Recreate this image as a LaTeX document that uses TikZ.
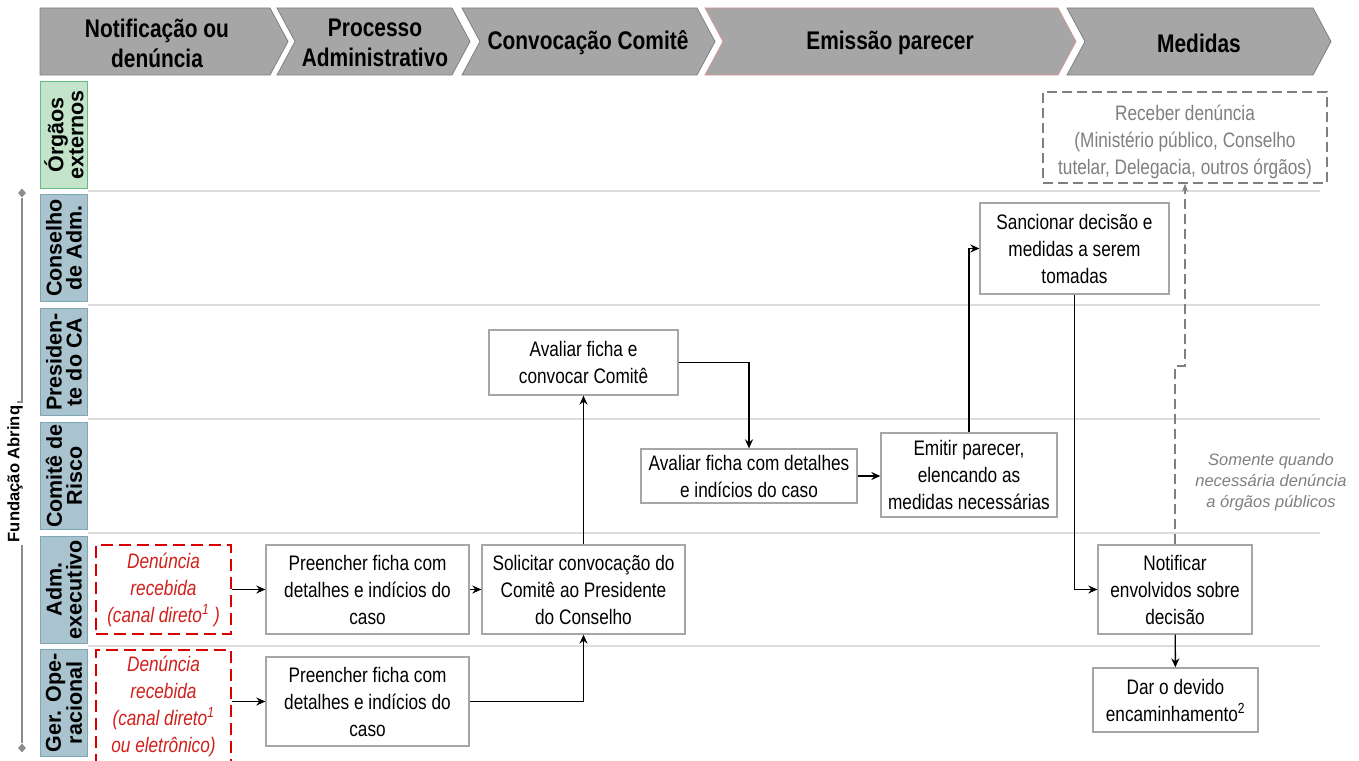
\documentclass[tikz,border=0pt]{standalone}
\usepackage{fontspec}
\setmainfont{Liberation Sans}[FakeStretch=0.82]
\newfontfamily\widefont{Liberation Sans}
\usetikzlibrary{arrows.meta,shapes.geometric}
\definecolor{hdrfill}{HTML}{A6A6A6}
\definecolor{hdrline}{HTML}{808080}
\definecolor{hdrred}{HTML}{D99694}
\definecolor{lanefill}{HTML}{A9C4CE}
\definecolor{laneline}{HTML}{7EA6B4}
\definecolor{grnfill}{HTML}{C3E4CA}
\definecolor{grnline}{HTML}{66BB7F}
\definecolor{sepline}{HTML}{DDDDDD}
\definecolor{boxline}{HTML}{A6A6A6}
\definecolor{redtxt}{HTML}{D0201C}
\definecolor{graytxt}{HTML}{7F7F7F}
\definecolor{brk}{HTML}{8C8C8C}
\tikzset{
  chev/.style={fill=hdrfill, draw=hdrline, line width=0.8pt},
  hdr/.style={font=\bfseries\fontsize{25.5}{30}\selectfont, align=center, inner sep=0},
  lane/.style={draw=laneline, fill=lanefill, line width=1pt, rotate=90, minimum width=107pt, minimum height=47pt, inner sep=0, align=center, font=\widefont\bfseries\fontsize{21.5}{20}\selectfont},
  grnlane/.style={lane, draw=grnline, fill=grnfill},
  sep/.style={draw=sepline, line width=1.8pt},
  box/.style={draw=boxline, line width=1.3pt, fill=white, align=center, inner sep=0, font=\fontsize{21}{27}\selectfont},
  redbox/.style={box, draw=red!85!black, dash pattern=on 12pt off 6pt, text=redtxt, font=\itshape\fontsize{21}{27}\selectfont},
  recvbox/.style={box, draw=graytxt, dash pattern=on 10pt off 5pt, text=graytxt},
  arr/.style={line width=1.4pt, -{Stealth[length=9pt,width=8pt]}},
  garr/.style={draw=graytxt, line width=1.2pt, dash pattern=on 10pt off 5pt, -{Stealth[length=8pt,width=6pt,open]}},
}
\begin{document}
\begin{tikzpicture}[x=1pt,y=-1pt]
\useasboundingbox (0,0) rectangle (1359,760);
% header chevrons
\draw[chev] (40,8) -- (270,8) -- (288,41.5) -- (270,75) -- (40,75) -- cycle;
\draw[chev] (277,8) -- (452,8) -- (470,41.5) -- (452,75) -- (277,75) -- (295,41.5) -- cycle;
\draw[chev] (462,8) -- (697,8) -- (715,41.5) -- (697,75) -- (462,75) -- (480,41.5) -- cycle;
\draw[chev, draw=hdrred] (705,8) -- (1058,8) -- (1076,41.5) -- (1058,75) -- (705,75) -- (723,41.5) -- cycle;
\draw[chev] (1067,8) -- (1313,8) -- (1331,41.5) -- (1313,75) -- (1067,75) -- (1085,41.5) -- cycle;
\node[hdr] (h1) at (157,43) {Notificação ou\\denúncia};
\node[hdr] (h2) at (375,43) {Processo\\Administrativo};
\node[hdr] (h3) at (588,43) {Convocação Comitê};
\node[hdr] (h4) at (890,43) {Emissão parecer};
\node[hdr] (h5) at (1199,43) {Medidas};
% lane separators
\foreach \yy in {191,305,419,533,646} \draw[sep] (88,\yy) -- (1320,\yy);
% lane labels
\node[grnlane] (l1) at (64,135) {Órgãos\\externos};
\node[lane] (l2) at (64,248) {Conselho\\de Adm.};
\node[lane] (l3) at (64,362) {Presiden-\\te do CA};
\node[lane] (l4) at (64,476) {Comitê de\\Risco};
\node[lane] (l5) at (64,589.5) {Adm.\\executivo};
\node[lane] (l6) at (64,703) {Ger. Ope-\\racional};
% Fundacao Abrinq bracket
\node[diamond, fill=brk, minimum width=8pt, minimum height=9pt, inner sep=0] (dt) at (22,193) {};
\node[diamond, fill=brk, minimum width=8pt, minimum height=9pt, inner sep=0] (db) at (22,748) {};
\node[rotate=90, anchor=south, inner sep=0, font=\widefont\bfseries\fontsize{16.6}{18}\selectfont, yshift=-1pt] (fa) at (22,474) {Fundação Abrinq};
\coordinate (ft) at (22,402);
\coordinate (fb) at (22,545);
\draw[brk, line width=1.5pt] (dt) -- (ft) -- ++(-5,0);
\draw[brk, line width=1.5pt] (fb) -- (db);
% boxes
\node[recvbox, minimum width=284pt, minimum height=91pt] (recv) at (1185,137.5) {\rule{0pt}{24pt}Receber denúncia\\(Ministério público, Conselho\\tutelar, Delegacia, outros órgãos)};
\node[box, minimum width=189pt, minimum height=91pt] (sanc) at (1074.5,248.5) {Sancionar decisão e\\medidas a serem\\tomadas};
\node[box, minimum width=189pt, minimum height=65pt] (aval1) at (583.5,362.5) {Avaliar ficha e\\convocar Comitê};
\node[box, minimum width=216pt, minimum height=54pt] (aval2) at (749,476) {Avaliar ficha com detalhes\\e indícios do caso};
\node[box, minimum width=176pt, minimum height=84pt] (emit) at (969,475) {Emitir parecer,\\elencando as\\medidas necessárias};
\node[redbox, minimum width=135pt, minimum height=89pt] (den1) at (163.5,589.5) {Denúncia\\recebida\\(canal direto\textsuperscript{1} )};
\node[box, minimum width=203pt, minimum height=89pt] (pre1) at (367.5,589.5) {Preencher ficha com\\detalhes e indícios do\\caso};
\node[box, minimum width=203pt, minimum height=89pt] (sol) at (583.5,589.5) {Solicitar convocação do\\Comitê ao Presidente\\do Conselho};
\node[redbox, minimum width=135pt, minimum height=112pt] (den2) at (163.5,706) {Denúncia\\recebida\\(canal direto\textsuperscript{1}\\ou eletrônico)};
\node[box, minimum width=203pt, minimum height=89pt] (pre2) at (367.5,701.5) {Preencher ficha com\\detalhes e indícios do\\caso};
\node[box, minimum width=154pt, minimum height=89pt] (notif) at (1175,589.5) {Notificar\\envolvidos sobre\\decisão};
\node[box, minimum width=165pt, minimum height=64pt] (dar) at (1175.5,700) {Dar o devido\\encaminhamento\textsuperscript{2}};
\node[align=center, inner sep=0, text=graytxt, font=\widefont\itshape\fontsize{16.5}{21}\selectfont] (note) at (1271,482) {Somente quando\\necessária denúncia\\a órgãos públicos};
% connectors
\draw[arr] (den1) -- (pre1);
\draw[arr] (pre2.west -| den2.east) -- (pre2.west);
\draw[arr] (pre1) -- (sol);
\draw[arr] (pre2.east) -| (sol.south);
\draw[arr] (sol) -- (aval1);
\draw[arr] (aval1.east) -| (aval2.north);
\draw[arr] (aval2.east) -- (aval2.east -| emit.west);
\draw[arr] (emit.north) |- (sanc.west);
\draw[arr] (sanc.south) |- (notif.west);
\draw[arr] (notif) -- (dar);
\coordinate (bend) at (1175,366);
\draw[garr] (notif.north) -- (bend) -| (recv.south);
\end{tikzpicture}
\end{document}
